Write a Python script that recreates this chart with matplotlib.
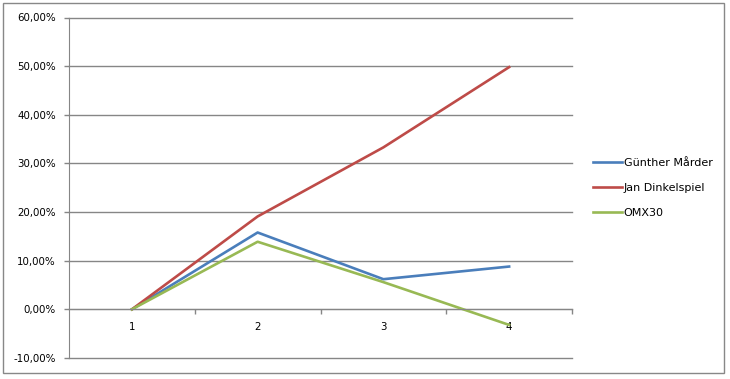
import matplotlib
matplotlib.use('Agg')
import matplotlib.pyplot as plt
from matplotlib.patches import Rectangle
from matplotlib.ticker import FixedLocator, FuncFormatter

# data
periods = [1, 2, 3, 4]
gunther = [0.0, 0.158, 0.062, 0.088]
jan = [0.0, 0.191, 0.333, 0.498]
omx30 = [0.0, 0.139, 0.056, -0.032]
series_names = ['Günther Mårder', 'Jan Dinkelspiel', 'OMX30']
y_ticks = [-0.1, 0.0, 0.1, 0.2, 0.3, 0.4, 0.5, 0.6]

plt.rcParams['font.family'] = ['DejaVu Sans']
plt.rcParams['font.size'] = 7.4

grid_col = '#868686'

fig = plt.figure(figsize=(7.3, 3.79), dpi=100)
fig.patch.set_facecolor('white')
# outer chart border
fig.patches.append(Rectangle((3 / 730, 6 / 379), 721 / 730, 370 / 379,
                             transform=fig.transFigure, fill=False,
                             edgecolor='#888888', linewidth=1.0))

ax = fig.add_axes([69 / 730, 21 / 379, 503 / 730, 340.5 / 379])

ax.plot(periods, gunther, color='#4A7EBB', linewidth=1.9, label=series_names[0])
ax.plot(periods, jan, color='#BE4B48', linewidth=1.9, label=series_names[1])
ax.plot(periods, omx30, color='#98B954', linewidth=1.9, label=series_names[2])

ax.set_xlim(0.5, 4.5)
ax.set_ylim(-0.1, 0.6)

# y axis
ax.yaxis.set_major_locator(FixedLocator(y_ticks))
ax.yaxis.set_major_formatter(FuncFormatter(lambda v, p: f"{v * 100:.2f}".replace('.', ',') + '%'))
ax.grid(True, axis='y', color=grid_col, linewidth=1.0)
for gl in ax.get_ygridlines():
    gl.set_clip_on(False)
ax.set_axisbelow(True)
ax.tick_params(axis='y', direction='out', length=3.5, width=1.0, color=grid_col, pad=6)

# x axis sits on 0 with boundary ticks
ax.spines['bottom'].set_position(('data', 0))
ax.spines['bottom'].set_color(grid_col)
ax.spines['left'].set_color(grid_col)
ax.spines['top'].set_visible(False)
ax.spines['right'].set_visible(False)
ax.xaxis.set_major_locator(FixedLocator(periods))
ax.xaxis.set_minor_locator(FixedLocator([1.5, 2.5, 3.5, 4.5]))
ax.tick_params(axis='x', which='major', length=0, pad=9)
ax.tick_params(axis='x', which='minor', direction='out', length=3.5, width=1.0, color=grid_col)

fig.legend(loc='center left', bbox_to_anchor=(583 / 730, 1 - 188 / 379),
           frameon=False, handlelength=2.6, handletextpad=0.15,
           labelspacing=1.35, fontsize=8.0)

plt.savefig('out.png', dpi=100)
plt.close()
